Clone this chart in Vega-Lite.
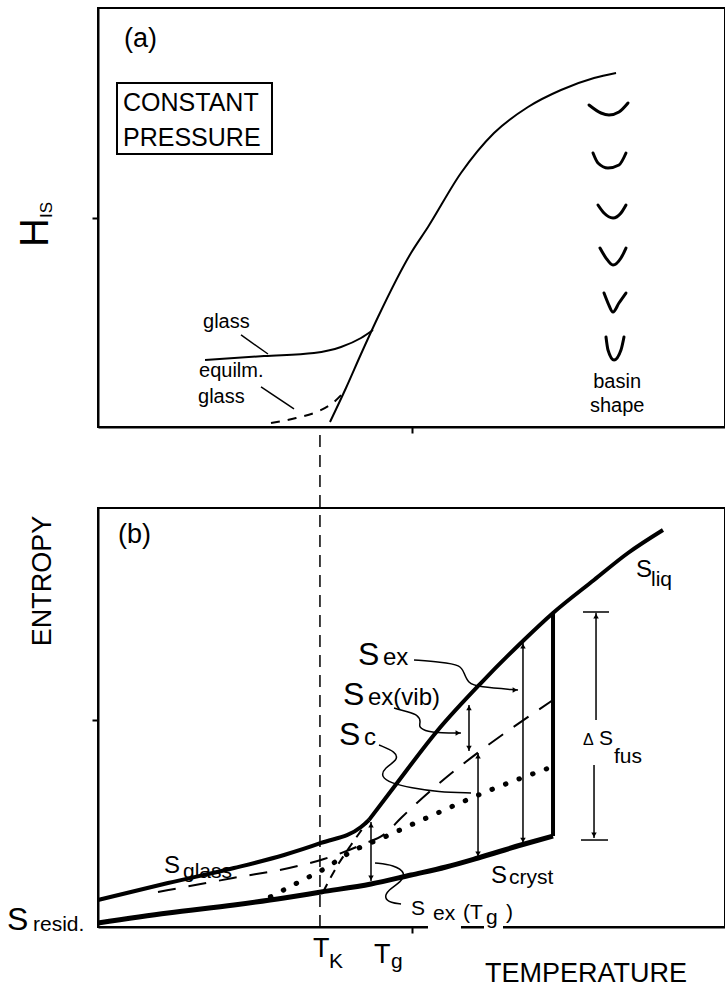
{
  "$schema": "https://vega.github.io/schema/vega-lite/v6.json",
  "autosize": {"type": "pad"},
  "padding": {"left": 6, "top": 7, "right": 0, "bottom": 0},
  "background": "white",
  "bounds": "flush",
  "spacing": 81,
  "config": {
    "font": "Liberation Sans",
    "view": {"stroke": "black", "strokeWidth": 2},
    "axis": {"domainColor": "black", "tickColor": "black", "domainWidth": 2, "tickWidth": 2, "tickSize": 6, "labels": false, "grid": false}
  },
  "datasets": {
    "topLines": [
      {"s": "liq", "t": 37.0, "v": 1.19}, {"s": "liq", "t": 39.55, "v": 9.31}, {"s": "liq", "t": 41.95, "v": 17.42}, {"s": "liq", "t": 44.66, "v": 26.25}, {"s": "liq", "t": 49.92, "v": 41.53}, {"s": "liq", "t": 52.63, "v": 47.73}, {"s": "liq", "t": 57.89, "v": 60.62}, {"s": "liq", "t": 63.16, "v": 70.17}, {"s": "liq", "t": 68.58, "v": 76.37}, {"s": "liq", "t": 73.84, "v": 80.43}, {"s": "liq", "t": 79.11, "v": 83.29}, {"s": "liq", "t": 82.62, "v": 84.49},
      {"s": "glass", "t": 17.07, "v": 15.99}, {"s": "glass", "t": 26.48, "v": 16.95}, {"s": "glass", "t": 34.45, "v": 17.66}, {"s": "glass", "t": 38.76, "v": 19.09}, {"s": "glass", "t": 41.95, "v": 21.24}, {"s": "glass", "t": 43.86, "v": 23.15}
    ],
    "topEq": [
      {"t": 27.59, "v": 0.95}, {"t": 31.58, "v": 2.15}, {"t": 35.25, "v": 3.82}, {"t": 37.64, "v": 5.97}, {"t": 39.23, "v": 8.35}
    ],
    "basins": [
      {"b": 1, "t": 78.31, "v": 76.85}, {"b": 1, "t": 80.22, "v": 74.94}, {"b": 1, "t": 81.5, "v": 74.46}, {"b": 1, "t": 83.09, "v": 75.18}, {"b": 1, "t": 84.53, "v": 77.33},
      {"b": 2, "t": 78.95, "v": 65.39}, {"b": 2, "t": 79.74, "v": 63.01}, {"b": 2, "t": 81.34, "v": 61.81}, {"b": 2, "t": 83.09, "v": 62.53}, {"b": 2, "t": 84.21, "v": 65.39},
      {"b": 3, "t": 79.74, "v": 52.98}, {"b": 3, "t": 80.7, "v": 51.07}, {"b": 3, "t": 82.14, "v": 49.88}, {"b": 3, "t": 83.41, "v": 51.07}, {"b": 3, "t": 84.21, "v": 52.98},
      {"b": 4, "t": 80.06, "v": 42.72}, {"b": 4, "t": 81.02, "v": 40.33}, {"b": 4, "t": 82.14, "v": 38.66}, {"b": 4, "t": 83.41, "v": 40.33}, {"b": 4, "t": 84.21, "v": 42.72},
      {"b": 5, "t": 80.7, "v": 31.98}, {"b": 5, "t": 81.34, "v": 29.59}, {"b": 5, "t": 82.14, "v": 27.45}, {"b": 5, "t": 83.09, "v": 29.59}, {"b": 5, "t": 84.21, "v": 31.98},
      {"b": 6, "t": 81.02, "v": 21.48}, {"b": 6, "t": 81.34, "v": 18.38}, {"b": 6, "t": 82.3, "v": 15.99}, {"b": 6, "t": 83.41, "v": 18.38}, {"b": 6, "t": 83.89, "v": 21.48}
    ],
    "topRules": [
      {"t": 22.81, "v": 21.96, "t2": 27.11, "v2": 17.42},
      {"t": 26.0, "v": 9.55, "t2": 31.26, "v2": 4.3}
    ],
    "box": [{"t": 3.03, "v": 82.1, "t2": 27.75, "v2": 65.16}],
    "topText": [
      {"label": "(a)", "t": 4.15, "v": 90.69, "k": "l"},
      {"label": "CONSTANT", "t": 3.99, "v": 75.42, "k": "box"},
      {"label": "PRESSURE", "t": 3.99, "v": 67.06, "k": "box"},
      {"label": "glass", "t": 16.75, "v": 23.63, "k": "lab"},
      {"label": "equilm.", "t": 16.11, "v": 11.93, "k": "lab"},
      {"label": "glass", "t": 15.95, "v": 5.73, "k": "lab"}
    ],
    "topCenter": [
      {"label": "basin", "t": 82.8, "v": 9.31, "k": "lab"},
      {"label": "shape", "t": 82.8, "v": 3.58, "k": "lab"}
    ],
    "topRot": [
      {"label": "H", "t": -7.97, "v": 46.42, "k": "huge"},
      {"label": "IS", "t": -7.34, "v": 51.79, "k": "xs"}
    ],
    "thick": [
      {"s": "liq", "t": 43.22, "v": 25.54}, {"s": "liq", "t": 47.21, "v": 33.41}, {"s": "liq", "t": 54.23, "v": 47.02}, {"s": "liq", "t": 61.08, "v": 58.23}, {"s": "liq", "t": 67.94, "v": 68.5}, {"s": "liq", "t": 72.57, "v": 74.94}, {"s": "liq", "t": 79.11, "v": 82.82}, {"s": "liq", "t": 84.53, "v": 89.26}, {"s": "liq", "t": 90.11, "v": 94.75},
      {"s": "glass", "t": 0, "v": 6.44}, {"s": "glass", "t": 11.16, "v": 10.5}, {"s": "glass", "t": 21.69, "v": 14.08}, {"s": "glass", "t": 29.67, "v": 17.18}, {"s": "glass", "t": 35.57, "v": 20.05}, {"s": "glass", "t": 41.95, "v": 23.87}, {"s": "glass", "t": 43.22, "v": 25.54}
    ],
    "cryst": [
      {"t": 0, "v": 0.95}, {"t": 11.16, "v": 3.34}, {"t": 21.69, "v": 5.25}, {"t": 29.67, "v": 6.92}, {"t": 35.57, "v": 8.35}, {"t": 43.54, "v": 10.26}, {"t": 49.92, "v": 12.41}, {"t": 55.5, "v": 14.32}, {"t": 60.61, "v": 16.47}, {"t": 67.46, "v": 19.57}, {"t": 72.57, "v": 21.72}
    ],
    "longDash": [
      {"t": 9.57, "v": 8.35}, {"t": 21.53, "v": 11.69}, {"t": 31.9, "v": 14.56}, {"t": 36.04, "v": 16.23}, {"t": 41.95, "v": 19.57}, {"t": 45.93, "v": 22.43}, {"t": 48.33, "v": 26.01}, {"t": 72.57, "v": 54.18}
    ],
    "steepDash": [
      {"t": 35.89, "v": 8.35}, {"t": 37.96, "v": 14.08}, {"t": 40.35, "v": 19.57}, {"t": 43.22, "v": 25.54}
    ],
    "dots": [
      {"t": 27.5, "v": 7.2}, {"t": 32.06, "v": 10.74}, {"t": 36.84, "v": 14.56}, {"t": 39.23, "v": 16.95}, {"t": 46.41, "v": 21.96}, {"t": 53.43, "v": 26.73}, {"t": 62.2, "v": 32.46}, {"t": 71.93, "v": 37.95}
    ],
    "leaders": [
      {"s": "sex", "o": 1, "t": 50.4, "v": 63.72}, {"s": "sex", "o": 2, "t": 54.7, "v": 63.25}, {"s": "sex", "o": 3, "t": 57.89, "v": 62.53}, {"s": "sex", "o": 4, "t": 58.37, "v": 60.62}, {"s": "sex", "o": 5, "t": 59.01, "v": 58.23}, {"s": "sex", "o": 6, "t": 60.61, "v": 57.28}, {"s": "sex", "o": 7, "t": 66.99, "v": 56.56},
      {"s": "svib", "o": 1, "t": 47.21, "v": 52.27}, {"s": "svib", "o": 2, "t": 49.44, "v": 51.31}, {"s": "svib", "o": 3, "t": 51.04, "v": 50.6}, {"s": "svib", "o": 4, "t": 51.52, "v": 48.93}, {"s": "svib", "o": 5, "t": 51.04, "v": 47.73}, {"s": "svib", "o": 6, "t": 52.63, "v": 46.54}, {"s": "svib", "o": 7, "t": 54.7, "v": 46.3}, {"s": "svib", "o": 8, "t": 57.89, "v": 46.3},
      {"s": "sc", "o": 1, "t": 44.82, "v": 43.44}, {"s": "sc", "o": 2, "t": 47.53, "v": 41.77}, {"s": "sc", "o": 3, "t": 47.85, "v": 39.86}, {"s": "sc", "o": 4, "t": 45.61, "v": 37.95}, {"s": "sc", "o": 5, "t": 45.14, "v": 35.8}, {"s": "sc", "o": 6, "t": 46.73, "v": 34.37}, {"s": "sc", "o": 7, "t": 49.92, "v": 33.17}, {"s": "sc", "o": 8, "t": 54.23, "v": 32.22}, {"s": "sc", "o": 9, "t": 59.49, "v": 31.98},
      {"s": "stg", "o": 1, "t": 44.18, "v": 15.27}, {"s": "stg", "o": 2, "t": 47.21, "v": 14.8}, {"s": "stg", "o": 3, "t": 49.12, "v": 12.89}, {"s": "stg", "o": 4, "t": 48.33, "v": 10.74}, {"s": "stg", "o": 5, "t": 46.25, "v": 8.83}, {"s": "stg", "o": 6, "t": 45.61, "v": 6.92}, {"s": "stg", "o": 7, "t": 46.73, "v": 5.73}, {"s": "stg", "o": 8, "t": 48.33, "v": 5.49}
    ],
    "rules": [
      {"t": 43.54, "v": 25.06, "t2": 43.54, "v2": 10.98},
      {"t": 60.61, "v": 41.53, "t2": 60.61, "v2": 16.71},
      {"t": 59.17, "v": 52.98, "t2": 59.17, "v2": 42.0},
      {"t": 67.78, "v": 67.78, "t2": 67.78, "v2": 20.05},
      {"t": 79.43, "v": 75.0, "t2": 79.43, "v2": 49.4},
      {"t": 79.11, "v": 38.66, "t2": 79.11, "v2": 21.24},
      {"t": 77.35, "v": 75.18, "t2": 81.5, "v2": 75.18},
      {"t": 77.03, "v": 20.76, "t2": 81.34, "v2": 20.76}
    ],
    "heads": [
      {"t": 43.54, "v": 24.34, "d": "up"}, {"t": 43.54, "v": 11.7, "d": "down"},
      {"t": 60.61, "v": 40.81, "d": "up"}, {"t": 60.61, "v": 17.43, "d": "down"},
      {"t": 59.17, "v": 52.27, "d": "up"}, {"t": 59.17, "v": 42.72, "d": "down"},
      {"t": 67.78, "v": 67.06, "d": "up"}, {"t": 67.78, "v": 20.76, "d": "down"},
      {"t": 79.43, "v": 74.22, "d": "up"}, {"t": 79.11, "v": 21.96, "d": "down"},
      {"t": 66.51, "v": 56.56, "d": "right"}, {"t": 57.41, "v": 46.3, "d": "right"}
    ],
    "thickRule": [{"t": 72.57, "v": 21.72, "t2": 72.57, "v2": 74.94}],
    "tk": [{"t": 35.4, "v": 0, "t2": 35.4, "v2": 119}],
    "gaps": [
      {"t": 52.63, "v": 0.5, "t2": 57.89, "v2": -0.5},
      {"t": 61.56, "v": 0.5, "t2": 64.59, "v2": -0.5}
    ],
    "botText": [
      {"label": "(b)", "t": 3.19, "v": 91.65, "k": "l"},
      {"label": "S", "t": 85.81, "v": 83.53, "k": "m"}, {"label": "liq", "t": 88.2, "v": 81.38, "k": "s"},
      {"label": "S", "t": 41.47, "v": 62.53, "k": "xl"}, {"label": "ex", "t": 45.45, "v": 62.53, "k": "m"},
      {"label": "S", "t": 39.07, "v": 52.98, "k": "xl"}, {"label": "ex(vib)", "t": 43.06, "v": 52.98, "k": "m"},
      {"label": "S", "t": 38.44, "v": 43.44, "k": "xl"}, {"label": "c", "t": 42.42, "v": 43.44, "k": "m"},
      {"label": "Δ", "t": 77.35, "v": 43.44, "k": "xxs"}, {"label": "S", "t": 79.9, "v": 43.44, "k": "s"}, {"label": "fus", "t": 82.3, "v": 39.14, "k": "s"},
      {"label": "S", "t": 10.53, "v": 12.89, "k": "m"}, {"label": "glass", "t": 13.56, "v": 11.69, "k": "s"},
      {"label": "S", "t": 62.68, "v": 10.5, "k": "m"}, {"label": "cryst", "t": 65.55, "v": 10.26, "k": "s"},
      {"label": "S", "t": -14.51, "v": -0.72, "k": "xl"}, {"label": "resid.", "t": -10.37, "v": -0.95, "k": "s"},
      {"label": "S", "t": 49.92, "v": 2.86, "k": "s"}, {"label": "ex", "t": 53.43, "v": 1.67, "k": "s"}, {"label": "(T", "t": 58.21, "v": 1.91, "k": "s"}, {"label": "g", "t": 61.88, "v": 0.72, "k": "s"}, {"label": ")", "t": 65.07, "v": 1.91, "k": "s"},
      {"label": "T", "t": 34.29, "v": -7.16, "k": "l"}, {"label": "K", "t": 36.84, "v": -9.79, "k": "s"},
      {"label": "T", "t": 44.02, "v": -8.59, "k": "l"}, {"label": "g", "t": 46.73, "v": -9.79, "k": "s"}
    ],
    "botCenter": [{"label": "TEMPERATURE", "t": 77.83, "v": -13.13, "k": "l"}],
    "botRot": [{"label": "ENTROPY", "t": -7.5, "v": 82.58, "k": "l"}]
  },
  "vconcat": [
    {
      "width": 627,
      "height": 419,
      "encoding": {
        "x": {"field": "t", "type": "quantitative", "scale": {"domain": [0, 100], "nice": false, "zero": false}, "axis": {"values": [50], "labels": false, "title": null, "grid": false}},
        "y": {"field": "v", "type": "quantitative", "scale": {"domain": [0, 100], "nice": false, "zero": false}, "axis": {"values": [50], "labels": false, "title": null, "grid": false}}
      },
      "layer": [
        {"data": {"name": "topLines"}, "mark": {"type": "line", "color": "black", "strokeWidth": 2, "interpolate": "monotone"}, "encoding": {"detail": {"field": "s"}}},
        {"data": {"name": "topEq"}, "mark": {"type": "line", "color": "black", "strokeWidth": 2, "strokeDash": [9, 8], "interpolate": "monotone"}, "encoding": {}},
        {"data": {"name": "basins"}, "mark": {"type": "line", "color": "black", "strokeWidth": 3, "interpolate": "monotone", "strokeCap": "round"}, "encoding": {"detail": {"field": "b"}}},
        {"data": {"name": "topRules"}, "mark": {"type": "rule", "color": "black", "strokeWidth": 1.5}, "encoding": {"x2": {"field": "t2"}, "y2": {"field": "v2"}}},
        {"data": {"name": "box"}, "mark": {"type": "rect", "fill": "white", "fillOpacity": 0, "stroke": "black", "strokeWidth": 2}, "encoding": {"x2": {"field": "t2"}, "y2": {"field": "v2"}}},
        {"data": {"name": "topText"}, "mark": {"type": "text", "align": "left", "baseline": "alphabetic", "color": "black", "font": "Liberation Sans"},
         "encoding": {"text": {"field": "label"}, "size": {"field": "k", "type": "nominal", "scale": {"type": "ordinal", "domain": ["huge", "xl", "l", "box", "m", "s", "lab", "xs", "xxs"], "range": [40, 32, 27, 25, 24, 21, 20, 17, 16]}, "legend": null}}},
        {"data": {"name": "topCenter"}, "mark": {"type": "text", "align": "center", "baseline": "alphabetic", "color": "black", "font": "Liberation Sans"},
         "encoding": {"text": {"field": "label"}, "size": {"field": "k", "type": "nominal", "scale": {"type": "ordinal", "domain": ["huge", "xl", "l", "box", "m", "s", "lab", "xs", "xxs"], "range": [40, 32, 27, 25, 24, 21, 20, 17, 16]}, "legend": null}}},
        {"data": {"name": "topRot"}, "mark": {"type": "text", "align": "center", "baseline": "alphabetic", "angle": 270, "color": "black", "font": "Liberation Sans"},
         "encoding": {"text": {"field": "label"}, "size": {"field": "k", "type": "nominal", "scale": {"type": "ordinal", "domain": ["huge", "xl", "l", "box", "m", "s", "lab", "xs", "xxs"], "range": [40, 32, 27, 25, 24, 21, 20, 17, 16]}, "legend": null}}}
      ]
    },
    {
      "width": 627,
      "height": 419,
      "encoding": {
        "x": {"field": "t", "type": "quantitative", "scale": {"domain": [0, 100], "nice": false, "zero": false}, "axis": {"values": [50], "labels": false, "title": null, "grid": false}},
        "y": {"field": "v", "type": "quantitative", "scale": {"domain": [0, 100], "nice": false, "zero": false}, "axis": {"values": [49.4], "labels": false, "title": null, "grid": false}}
      },
      "layer": [
        {"data": {"name": "tk"}, "mark": {"type": "rule", "color": "black", "strokeWidth": 1.5, "strokeDash": [12, 8]}, "encoding": {"x2": {"field": "t2"}, "y2": {"field": "v2"}}},
        {"data": {"name": "longDash"}, "mark": {"type": "line", "color": "black", "strokeWidth": 2, "strokeDash": [18, 13], "interpolate": "monotone"}, "encoding": {}},
        {"data": {"name": "steepDash"}, "mark": {"type": "line", "color": "black", "strokeWidth": 2, "strokeDash": [9, 7], "interpolate": "monotone"}, "encoding": {}},
        {"data": {"name": "dots"}, "mark": {"type": "line", "color": "black", "strokeWidth": 5, "strokeDash": [0.5, 14], "strokeCap": "round", "interpolate": "monotone"}, "encoding": {}},
        {"data": {"name": "thick"}, "mark": {"type": "line", "color": "black", "strokeWidth": 4, "interpolate": "monotone"}, "encoding": {"detail": {"field": "s"}}},
        {"data": {"name": "cryst"}, "mark": {"type": "line", "color": "black", "strokeWidth": 5, "interpolate": "monotone"}, "encoding": {}},
        {"data": {"name": "thickRule"}, "mark": {"type": "rule", "color": "black", "strokeWidth": 4}, "encoding": {"x2": {"field": "t2"}, "y2": {"field": "v2"}}},
        {"data": {"name": "rules"}, "mark": {"type": "rule", "color": "black", "strokeWidth": 1.5}, "encoding": {"x2": {"field": "t2"}, "y2": {"field": "v2"}}},
        {"data": {"name": "leaders"}, "mark": {"type": "line", "color": "black", "strokeWidth": 1.5, "interpolate": "basis"}, "encoding": {"detail": {"field": "s"}, "order": {"field": "o"}}},
        {"data": {"name": "heads"}, "mark": {"type": "point", "filled": true, "color": "black", "size": 30, "opacity": 1},
         "encoding": {"shape": {"field": "d", "type": "nominal", "scale": {"domain": ["up", "down", "right"], "range": ["triangle-up", "triangle-down", "triangle-right"]}, "legend": null}}},
        {"data": {"name": "gaps"}, "mark": {"type": "rect", "fill": "white", "strokeWidth": 0}, "encoding": {"x2": {"field": "t2"}, "y2": {"field": "v2"}}},
        {"data": {"name": "botText"}, "mark": {"type": "text", "align": "left", "baseline": "alphabetic", "color": "black", "font": "Liberation Sans"},
         "encoding": {"text": {"field": "label"}, "size": {"field": "k", "type": "nominal", "scale": {"type": "ordinal", "domain": ["huge", "xl", "l", "box", "m", "s", "lab", "xs", "xxs"], "range": [40, 32, 27, 25, 24, 21, 20, 17, 16]}, "legend": null}}},
        {"data": {"name": "botCenter"}, "mark": {"type": "text", "align": "center", "baseline": "alphabetic", "color": "black", "font": "Liberation Sans"},
         "encoding": {"text": {"field": "label"}, "size": {"field": "k", "type": "nominal", "scale": {"type": "ordinal", "domain": ["huge", "xl", "l", "box", "m", "s", "lab", "xs", "xxs"], "range": [40, 32, 27, 25, 24, 21, 20, 17, 16]}, "legend": null}}},
        {"data": {"name": "botRot"}, "mark": {"type": "text", "align": "center", "baseline": "alphabetic", "angle": 270, "color": "black", "font": "Liberation Sans"},
         "encoding": {"text": {"field": "label"}, "size": {"field": "k", "type": "nominal", "scale": {"type": "ordinal", "domain": ["huge", "xl", "l", "box", "m", "s", "lab", "xs", "xxs"], "range": [40, 32, 27, 25, 24, 21, 20, 17, 16]}, "legend": null}}}
      ]
    }
  ]
}
